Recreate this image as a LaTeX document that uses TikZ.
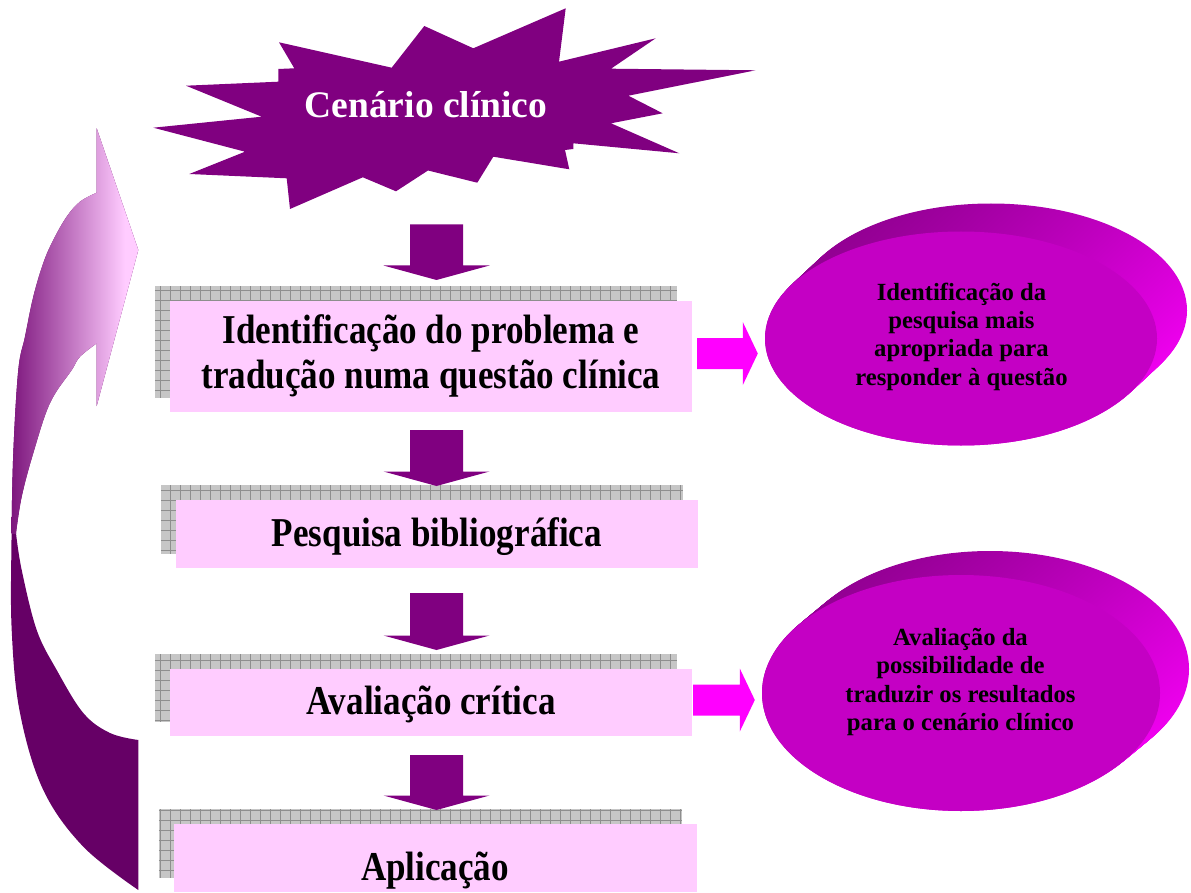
\documentclass[tikz,border=0pt]{standalone}
\usepackage{fontspec}
\setmainfont{Liberation Serif}
\newfontfamily\condserif{Liberation Serif}[FakeStretch=0.855]
\usetikzlibrary{calc,shapes.geometric,backgrounds}

\definecolor{plum}{HTML}{800080}
\definecolor{deepplum}{HTML}{660066}
\definecolor{softpink}{HTML}{FFCCFF}
\definecolor{midorchid}{HTML}{C98AC9}
\definecolor{darkorchid}{HTML}{7D167D}
\definecolor{brightmag}{HTML}{FF00FF}
\definecolor{ovalface}{HTML}{C400C4}
\definecolor{ovaldark}{HTML}{930093}
\definecolor{ovallight}{HTML}{F000F0}
\definecolor{gridbase}{HTML}{C6C6C6}
\definecolor{gridline}{HTML}{8E8E8E}

% outline of the big curved return arrow on the left
\newcommand\returnoutline{plot[smooth,tension=0.6] coordinates {(138.3,890) (83.3,846.7) (43.3,790) (20,713) (11.7,630) (11.5,540) (13.3,453) (18.3,370) (25,336.7) (33.3,296.7) (43.3,263) (53.3,240) (66.7,216.7) (80,201.7) (96.7,192.7)}
  -- (96.7,128.3) -- (138.3,250) -- (96.7,406) -- (96.7,343.3)
  -- plot[smooth,tension=0.6] coordinates {(96.7,343.3) (80,356.7) (71.7,370) (50,403) (33.3,453) (21.7,496.7) (16,533)}
  -- plot[smooth,tension=0.6] coordinates {(16,533) (21.7,570) (36.7,630) (56.7,670) (83.3,713) (110,733) (138.3,740)}
  -- cycle}

\begin{document}
\begin{tikzpicture}[x=1pt,y=-1pt,
  card/.style={rectangle, fill=softpink, inner sep=0pt, minimum width=522pt},
  cardtext/.style={font=\condserif\bfseries\fontsize{41}{45}\selectfont, align=center, inner sep=0pt},
  ovaltext/.style={font=\bfseries\fontsize{24.7}{28.3}\selectfont, align=center, inner sep=0pt},
  oval/.style={ellipse, fill=ovalface, inner sep=0pt},
  blockdown/.style={fill=plum, to path={let \p1=(\tikztostart), \p2=(\tikztotarget) in
    (\x1-26.5pt,\y1) -- (\x1+26.5pt,\y1) -- (\x1+26.5pt,\y2+14.5pt) -- (\x1+53pt,\y2+14.5pt)
    -- (\x2,\y2) -- (\x1-53pt,\y2+14.5pt) -- (\x1-26.5pt,\y2+14.5pt) -- cycle}},
  blockright/.style={fill=brightmag, to path={let \p1=(\tikztostart), \p2=(\tikztotarget) in
    (\x1,\y1+15.5pt) -- (\x2-15pt,\y1+15.5pt) -- (\x2-15pt,\y1+31.5pt) -- (\x2,\y1)
    -- (\x2-15pt,\y1-31.5pt) -- (\x2-15pt,\y1-15.5pt) -- (\x1,\y1-15.5pt) -- cycle}}
]
\useasboundingbox (0,0) rectangle (1191,893);

% curved return arrow: dark lower band, shaded upper band
\fill[deepplum] \returnoutline;
\begin{scope}
  \clip \returnoutline;
  \clip (0,0) rectangle (145,533);
  \shade[left color=darkorchid, middle color=midorchid, right color=softpink] (11,100) rectangle (125,540);
  \fill[softpink] (124.5,100) rectangle (145,540);
\end{scope}

% starburst with the opening scenario
\fill[plum] (279,42.3) -- (391.7,67.7) -- (424.3,26) -- (473.3,48.3) -- (565.7,8.3) -- (559,61.7)
  -- (655.7,38.3) -- (611,68.7) -- (755.7,70.3) -- (628.3,95.7) -- (662.7,113.3) -- (611,123.3)
  -- (679.3,153.3) -- (573.3,143.3) -- (573.3,149) -- (565,150) -- (569.3,169.3) -- (493.3,156.7)
  -- (477.3,182.7) -- (428,170.5) -- (396,191.3) -- (362.8,177.3) -- (290,209) -- (286.7,178.3)
  -- (189.3,174) -- (245,151.7) -- (153.3,127.7) -- (261.7,116.7) -- (186,85.7) -- (278.3,81.7)
  -- (278.3,69) -- (294.3,68.3) -- cycle;
\node[text=white, font=\bfseries\fontsize{37.5}{40}\selectfont, anchor=base, inner sep=0pt] (burst) at (426,117.3) {Cenário clínico};

% step cards
\node[card, minimum height=111.3pt] (b1) at (431,356.35) {};
\node[card, minimum height=68pt] (b2) at (437,534) {};
\node[card, minimum height=67pt] (b3) at (431,702.5) {};
\node[card, minimum height=68pt, minimum width=523pt] (b4) at (435.5,858) {};

\node[cardtext] (t1) at (431,355.8) {Identificação do problema e\\tradução numa questão clínica};
\node[cardtext, anchor=base] (t2) at (437,546.5) {Pesquisa bibliográfica};
\node[cardtext, anchor=base] (t3) at (431,714.5) {Avaliação crítica};
\node[cardtext, anchor=base] (t4) at (435,880) {Aplicação};

% gridded shadows behind the cards
\begin{scope}[on background layer]
  \foreach \b in {b1,b2,b3,b4} {
    \begin{scope}
      \path ([shift={(-15,-14.5)}]\b.north west) coordinate (sNW)
            ([shift={(-15,-14.5)}]\b.south east) coordinate (sSE);
      \clip (sNW) rectangle (sSE);
      \fill[gridbase] (sNW) rectangle (sSE);
      \draw[gridline, line width=0.8pt, step=10pt] (sNW) grid (sSE);
    \end{scope}
  }
\end{scope}

% downward block arrows between the steps
\coordinate (a1s) at (436.5,224.3); \coordinate (a1e) at (436.5,280);
\coordinate (a2s) at (436.5,430);   \coordinate (a2e) at (436.5,486);
\coordinate (a3s) at (436.5,593);   \coordinate (a3e) at (436.5,650);
\coordinate (a4s) at (436.5,755);   \coordinate (a4e) at (436.5,810);
\path[blockdown] (a1s) to (a1e);
\path[blockdown] (a2s) to (a2e);
\path[blockdown] (a3s) to (a3e);
\path[blockdown] (a4s) to (a4e);

% raised ovals
\foreach \k in {0,...,30} {
  \pgfmathsetmacro\f{1-\k/30}
  \shade[top color=ovaldark, bottom color=ovallight, shading angle=35]
    (961+30*\f,338.5-28*\f) ellipse [x radius=196, y radius=107];
}
\node[oval, minimum width=392pt, minimum height=214pt] (o1) at (961,338.5) {};
\node[ovaltext] (o1t) at (961.5,336.7) {Identificação da\\pesquisa mais\\apropriada para\\responder à questão};

\foreach \k in {0,...,30} {
  \pgfmathsetmacro\f{1-\k/30}
  \shade[top color=ovaldark, bottom color=ovallight, shading angle=35]
    (961+29*\f,693-24*\f) ellipse [x radius=199, y radius=118];
}
\node[oval, minimum width=398pt, minimum height=236pt] (o2) at (961,693) {};
\node[ovaltext] (o2t) at (960.5,682.1) {Avaliação da\\possibilidade de\\traduzir os resultados\\para o cenário clínico};

% sideways block arrows to the ovals
\path[blockright] ([shift={(5,-2.8)}]b1.east) to ([xshift=-7pt]o1.west);
\path[blockright] ([shift={(1,-2.5)}]b3.east) to ([xshift=-7pt]o2.west);
\end{tikzpicture}
\end{document}
